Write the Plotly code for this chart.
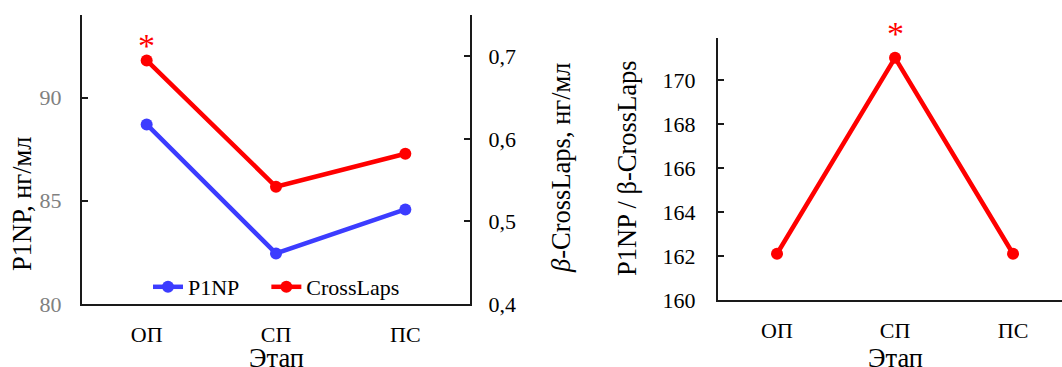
import plotly.graph_objects as go

W, H = 1062, 367

stages = ["ОП", "СП", "ПС"]
p1np = [88.7, 82.45, 84.58]
crosslaps = [0.695, 0.542, 0.582]
ratio = [162.1, 171.0, 162.1]

left_ticks_color = "#808080"
BLUE = "#3c3cff"
RED = "#ff0000"
AX = "#1a1a1a"
FONT = "Liberation Serif"

fig = go.Figure()

fig.add_trace(go.Scatter(x=stages, y=p1np, name="P1NP\u00a0\u00a0\u00a0\u00a0", mode="lines+markers",
                         line=dict(color=BLUE, width=4.5), marker=dict(size=12, color=BLUE),
                         xaxis="x", yaxis="y"))
fig.add_trace(go.Scatter(x=stages, y=crosslaps, name="CrossLaps", mode="lines+markers",
                         line=dict(color=RED, width=4.5), marker=dict(size=12, color=RED),
                         xaxis="x", yaxis="y2"))
fig.add_trace(go.Scatter(x=stages, y=ratio, name="ratio", mode="lines+markers",
                         line=dict(color=RED, width=4.5), marker=dict(size=12, color=RED),
                         xaxis="x2", yaxis="y3", showlegend=False))

def px_x(p):
    return p / W

def px_y(p):
    return 1 - p / H

common_x = dict(showline=True, linecolor=AX, linewidth=2, showgrid=False, zeroline=False,
                ticks="", tickfont=dict(family=FONT, size=22, color="black"),
                automargin=False, fixedrange=True)

yax = dict(showline=True, linecolor=AX, linewidth=2, showgrid=False, zeroline=False,
           ticks="inside", ticklen=6, tickwidth=1.5, tickcolor=AX, automargin=False,
           fixedrange=True)

fig.update_layout(
    width=W, height=H,
    margin=dict(l=0, r=0, t=0, b=0, autoexpand=False),
    paper_bgcolor="white", plot_bgcolor="white",
    separators=", ",
    font=dict(family=FONT, color="black"),
    xaxis=dict(domain=[px_x(82), px_x(470)], range=[-0.5, 2.5], anchor="y",
               ticklabelstandoff=10, **common_x),
    yaxis=dict(domain=[px_y(304), px_y(15)], range=[80, 94], tickvals=[80, 85, 90],
               tickfont=dict(family=FONT, size=22, color=left_ticks_color),
               ticklabelstandoff=14, anchor="x", **yax),
    yaxis2=dict(overlaying="y", side="right", anchor="x", range=[0.4, 0.75],
                tickvals=[0.4, 0.5, 0.6, 0.7], tickformat=".1f",
                tickfont=dict(family=FONT, size=22, color="black"), ticklabelstandoff=12, **yax),
    xaxis2=dict(domain=[px_x(718), 1.0], range=[-0.5, 2.415], anchor="y3",
                ticklabelstandoff=10, **common_x),
    yaxis3=dict(domain=[px_y(300), px_y(38)], range=[160, 171.9], tickvals=[160, 162, 164, 166, 168, 170],
                anchor="x2", tickfont=dict(family=FONT, size=22, color="black"),
                ticklabelstandoff=16, **yax),
    legend=dict(orientation="h", x=px_x(148), y=px_y(287), xanchor="left", yanchor="middle",
                bgcolor="rgba(0,0,0,0)", font=dict(family=FONT, size=22, color="black"),
                itemwidth=30),
    showlegend=True,
)

title_font = dict(family=FONT, size=26.5, color="black")
annos = [
    dict(text="P1NP, нг/мл", x=px_x(22), y=px_y(204), textangle=-90),
    dict(text="<i>β</i>-CrossLaps, нг/мл", x=px_x(561), y=px_y(168), textangle=-90),
    dict(text="P1NP / β-CrossLaps", x=px_x(627), y=px_y(168), textangle=-90),
    dict(text="Этап", x=px_x(276), y=px_y(358), textangle=0),
    dict(text="Этап", x=px_x(895), y=px_y(358), textangle=0),
]
for a in annos:
    fig.add_annotation(xref="paper", yref="paper", showarrow=False, font=title_font,
                       xanchor="center", yanchor="middle", **a)

# significance asterisks attached to data points
fig.add_annotation(x=stages[0], y=crosslaps[0], xref="x", yref="y2", text="*",
                   showarrow=False, font=dict(family=FONT, size=34, color=RED),
                   yanchor="middle", yshift=15)
fig.add_annotation(x=stages[1], y=ratio[1], xref="x2", yref="y3", text="*",
                   showarrow=False, font=dict(family=FONT, size=34, color=RED),
                   yanchor="middle", yshift=24)

fig.write_html("out.html")
